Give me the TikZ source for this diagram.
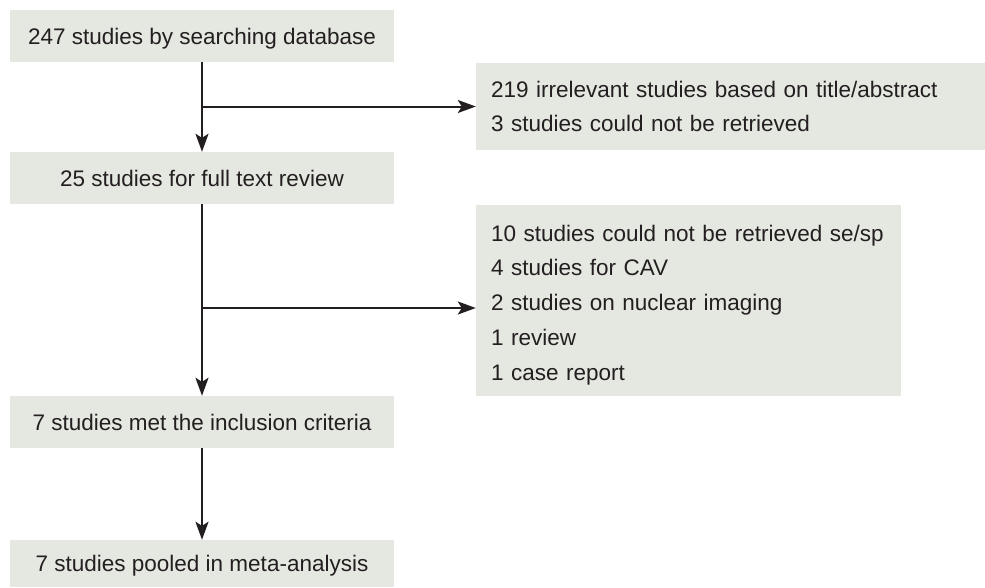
\documentclass[tikz,border=0pt]{standalone}
\usepackage{fontspec}
\setmainfont{Liberation Sans}
\usepackage{xcolor}
\usetikzlibrary{arrows.meta,calc,positioning}
\definecolor{boxfill}{HTML}{E5E7E1}
\definecolor{ink}{HTML}{231F20}

\begin{document}
\begin{tikzpicture}[x=1pt,y=-1pt,
  box/.style={fill=boxfill,inner sep=0pt,minimum width=384pt,minimum height=52pt,text=ink,font=\fontsize{22.5}{34.75}\selectfont},
  step box/.style={box,text height=16.5pt,text depth=0pt},
  side/.style={box,align=left,inner xsep=15pt},
  flow/.style={draw=ink,line width=2pt,-{Stealth[length=18pt,width=13pt,inset=4pt]}}]
  \useasboundingbox (0,0) rectangle (985,587);
  \node[step box] (search) at (202,36) {247 studies by searching database};
  \node[step box] (full) at (202,178) {25 studies for full text review};
  \node[step box] (met) at (202,422) {7 studies met the inclusion criteria};
  \node[step box,minimum height=47pt] (pooled) at (202,563.5) {7 studies pooled in meta-analysis};
  \node[side,minimum width=509pt,minimum height=87pt,text width=479pt] (excl1) at (730.5,106.5)
    {219 irrelevant studies based on title/abstract\\3 studies could not be retrieved};
  \node[side,minimum width=425pt,minimum height=191pt,text width=395pt] (excl2) at (688.5,300.5)
    {\rule{0pt}{25pt}10 studies could not be retrieved se/sp\\4 studies for CAV\\2 studies on nuclear imaging\\1 review\\1 case report};
  % branch points
  \coordinate (j1) at (202,106.5);
  \coordinate (j2) at (202,308);
  \draw[flow] (search) -- (full);
  \draw[flow] (j1) -- (excl1.west);
  \draw[flow] (full) -- (met);
  \draw[flow] (j2) -- (j2 -| excl2.west);
  \draw[flow] (met) -- (pooled);
\end{tikzpicture}
\end{document}
